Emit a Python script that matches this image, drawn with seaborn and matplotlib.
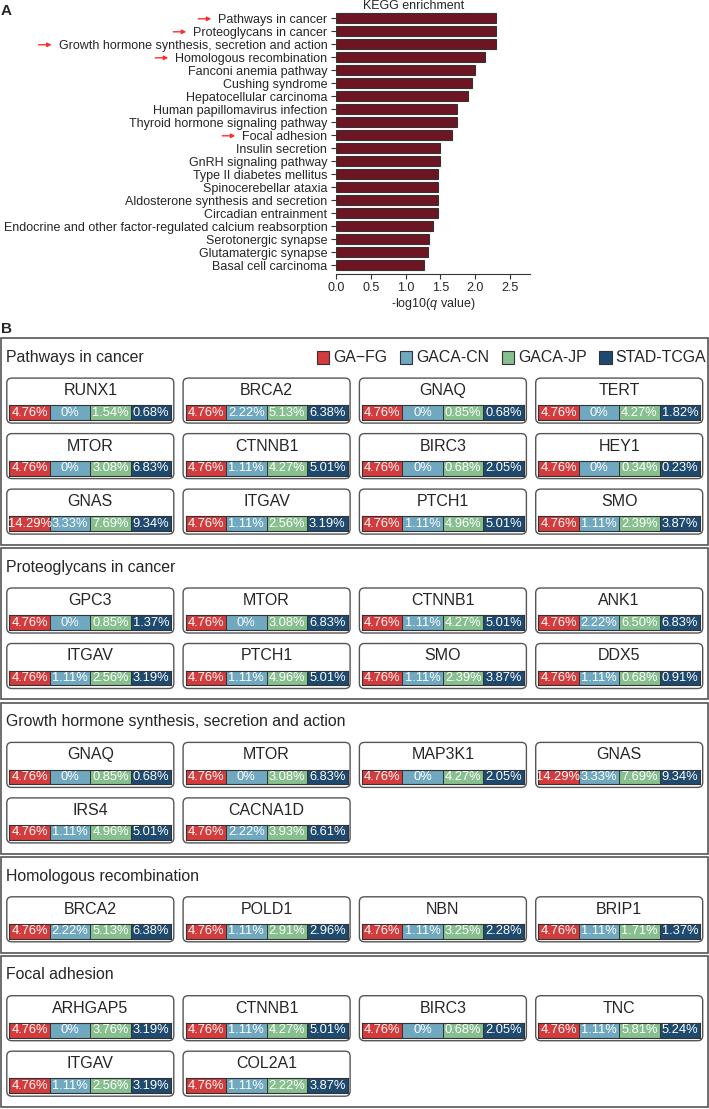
import numpy as np
import pandas as pd
import matplotlib
matplotlib.use("Agg")
import matplotlib.pyplot as plt
import seaborn as sns
from matplotlib.colors import ListedColormap
from matplotlib.patches import Rectangle, FancyBboxPatch

sns.set_style("ticks")
plt.rcParams["font.family"] = ["Liberation Sans", "DejaVu Sans"]
plt.rcParams["mathtext.fontset"] = "custom"
plt.rcParams["mathtext.rm"] = "Liberation Sans"
plt.rcParams["mathtext.it"] = "Liberation Sans:italic"

# ---- panel A data: KEGG enrichment ----
kegg_terms = [
    "Pathways in cancer", "Proteoglycans in cancer",
    "Growth hormone synthesis, secretion and action", "Homologous recombination",
    "Fanconi anemia pathway", "Cushing syndrome", "Hepatocellular carcinoma",
    "Human papillomavirus infection", "Thyroid hormone signaling pathway",
    "Focal adhesion", "Insulin secretion", "GnRH signaling pathway",
    "Type II diabetes mellitus", "Spinocerebellar ataxia",
    "Aldosterone synthesis and secretion", "Circadian entrainment",
    "Endocrine and other factor-regulated calcium reabsorption",
    "Serotonergic synapse", "Glutamatergic synapse", "Basal cell carcinoma",
]
kegg_values = [2.30, 2.30, 2.30, 2.14, 2.00, 1.96, 1.90, 1.74, 1.74, 1.67,
               1.50, 1.49, 1.46, 1.46, 1.46, 1.46, 1.39, 1.33, 1.32, 1.27]

# ---- panel B data: mutation frequency per cohort ----
cohorts = ["GA\u2212FG", "GACA-CN", "GACA-JP", "STAD-TCGA"]
cohort_colors = ["#D43B3C", "#6FA8BF", "#87BF8F", "#1F4A70"]

pathways = ["Pathways in cancer", "Proteoglycans in cancer",
            "Growth hormone synthesis, secretion and action",
            "Homologous recombination", "Focal adhesion"]

cancer_genes = ["RUNX1", "BRCA2", "GNAQ", "TERT", "MTOR", "CTNNB1", "BIRC3", "HEY1",
                "GNAS", "ITGAV", "PTCH1", "SMO"]
cancer_freq = [[4.76, 0, 1.54, 0.68], [4.76, 2.22, 5.13, 6.38], [4.76, 0, 0.85, 0.68],
               [4.76, 0, 4.27, 1.82], [4.76, 0, 3.08, 6.83], [4.76, 1.11, 4.27, 5.01],
               [4.76, 0, 0.68, 2.05], [4.76, 0, 0.34, 0.23], [14.29, 3.33, 7.69, 9.34],
               [4.76, 1.11, 2.56, 3.19], [4.76, 1.11, 4.96, 5.01], [4.76, 1.11, 2.39, 3.87]]

proteo_genes = ["GPC3", "MTOR", "CTNNB1", "ANK1", "ITGAV", "PTCH1", "SMO", "DDX5"]
proteo_freq = [[4.76, 0, 0.85, 1.37], [4.76, 0, 3.08, 6.83], [4.76, 1.11, 4.27, 5.01],
               [4.76, 2.22, 6.50, 6.83], [4.76, 1.11, 2.56, 3.19], [4.76, 1.11, 4.96, 5.01],
               [4.76, 1.11, 2.39, 3.87], [4.76, 1.11, 0.68, 0.91]]

growth_genes = ["GNAQ", "MTOR", "MAP3K1", "GNAS", "IRS4", "CACNA1D"]
growth_freq = [[4.76, 0, 0.85, 0.68], [4.76, 0, 3.08, 6.83], [4.76, 0, 4.27, 2.05],
               [14.29, 3.33, 7.69, 9.34], [4.76, 1.11, 4.96, 5.01], [4.76, 2.22, 3.93, 6.61]]

homrec_genes = ["BRCA2", "POLD1", "NBN", "BRIP1"]
homrec_freq = [[4.76, 2.22, 5.13, 6.38], [4.76, 1.11, 2.91, 2.96], [4.76, 1.11, 3.25, 2.28],
               [4.76, 1.11, 1.71, 1.37]]

focal_genes = ["ARHGAP5", "CTNNB1", "BIRC3", "TNC", "ITGAV", "COL2A1"]
focal_freq = [[4.76, 0, 3.76, 3.19], [4.76, 1.11, 4.27, 5.01], [4.76, 0, 0.68, 2.05],
              [4.76, 1.11, 5.81, 5.24], [4.76, 1.11, 2.56, 3.19], [4.76, 1.11, 2.22, 3.87]]

section_genes = [cancer_genes, proteo_genes, growth_genes, homrec_genes, focal_genes]
section_freq = [cancer_freq, proteo_freq, growth_freq, homrec_freq, focal_freq]

W, H = 709, 1109
fig = plt.figure(figsize=(W / 100, H / 100), dpi=100)


def px_axes(x0, y0, w, h, **kw):
    return fig.add_axes([x0 / W, 1 - (y0 + h) / H, w / W, h / H], **kw)


# overlay in pixel coordinates for frames / text of panel B
bx = fig.add_axes([0, 0, 1, 1], zorder=0)
bx.set_xlim(0, W)
bx.set_ylim(H, 0)
bx.axis("off")
bx.patch.set_visible(False)

# ---- panel A ----
ax = px_axes(336.4, 10.5, 194, 263.5, zorder=2)
df = pd.DataFrame({"term": kegg_terms, "value": kegg_values})
sns.barplot(data=df, x="value", y="term", orient="h", color="#6E1523", saturation=1,
            width=0.77, edgecolor="#333333", linewidth=0.8, ax=ax)
ax.set_xlim(0, 2.8)
ax.set_ylim(19.67, -0.6)
ax.set_xticks(np.arange(0, 2.6, 0.5))
ax.set_xlabel("-log10($\\mathit{q}$ value)", fontsize=9, labelpad=2)
ax.set_ylabel("")
sns.despine(ax=ax, left=True)
ax.spines["bottom"].set_linewidth(0.8)
ax.spines["bottom"].set_color("#333333")
ax.tick_params(axis="y", length=3.5, width=0.8, pad=3, labelsize=9, color="#333333")
ax.tick_params(axis="x", length=3.5, width=0.8, pad=2, labelsize=9, color="#333333")
fig.text(414 / W, 1 - 6 / H, "KEGG enrichment", ha="center", va="center", fontsize=9)
fig.text(6.4 / W, 1 - 11 / H, "A", ha="center", va="center", fontsize=11, fontweight="bold")
fig.text(6.8 / W, 1 - 329 / H, "B", ha="center", va="center", fontsize=11, fontweight="bold")

# red arrows next to the pathways shown in panel B
fig.canvas.draw()
for tl in ax.get_yticklabels():
    if tl.get_text() in pathways:
        bb = tl.get_window_extent()
        yc = (bb.y0 + bb.y1) / 2 + 1
        ax.annotate("", xy=(bb.x0 - 7, yc), xytext=(bb.x0 - 20, yc),
                    xycoords="figure pixels", textcoords="figure pixels",
                    arrowprops=dict(arrowstyle="-|>", color="#FF2B2B", lw=1.0,
                                    mutation_scale=6, shrinkA=0, shrinkB=0),
                    annotation_clip=False)

# ---- panel B ----
cmap = ListedColormap(cohort_colors)
renderer = fig.canvas.get_renderer()
top = 338.3
for k, (name, genes, freqs) in enumerate(zip(pathways, section_genes, section_freq)):
    nrows = int(np.ceil(len(genes) / 4))
    h = 95.5 + 55.5 * (nrows - 1)
    bx.add_patch(Rectangle((1.2, top), 706.3, h, fill=False, ec="#555555", lw=1.2))
    bx.text(6, top + 19, name, fontsize=11.4, va="center", ha="left")

    if k == 0:
        lx = 316.5
        for lab, col in zip(cohorts, cohort_colors):
            bx.add_patch(Rectangle((lx, top + 19 - 6.3), 12.6, 12.6, fc=col,
                                   ec="#333333", lw=0.8))
            t = bx.text(lx + 16.5, top + 19, lab, fontsize=11.4, va="center", ha="left")
            lx = lx + 16.5 + t.get_window_extent(renderer).width + 12.5

    for i, (g, f) in enumerate(zip(genes, freqs)):
        r, c = divmod(i, 4)
        cx = 6.8 + 176.3 * c
        ty = top + 52.3 + 55.5 * r
        bx.add_patch(FancyBboxPatch((cx, ty - 12.5), 167, 45,
                                    boxstyle="round,pad=0,rounding_size=5",
                                    fc="white", ec="#555555", lw=1.0))
        bx.text(cx + 83.5, ty, g, ha="center", va="center", fontsize=11.5)
        sax = px_axes(cx + 2.5, ty + 22 - 7.4, 162, 14.8)
        sax.set_facecolor("#333333")
        labels = np.array([["0%" if v == 0 else f"{v:.2f}%" for v in f]])
        sns.heatmap(np.arange(4).reshape(1, 4), ax=sax, cmap=cmap, vmin=-0.5, vmax=3.5,
                    annot=labels, fmt="", annot_kws=dict(color="white", fontsize=9.3),
                    linewidths=0.7, linecolor="#333333", cbar=False,
                    xticklabels=False, yticklabels=False)
        for s in sax.spines.values():
            s.set_visible(True)
            s.set_linewidth(0.8)
            s.set_color("#333333")
    top += h + 3.4

fig.savefig("out.png", dpi=100)
